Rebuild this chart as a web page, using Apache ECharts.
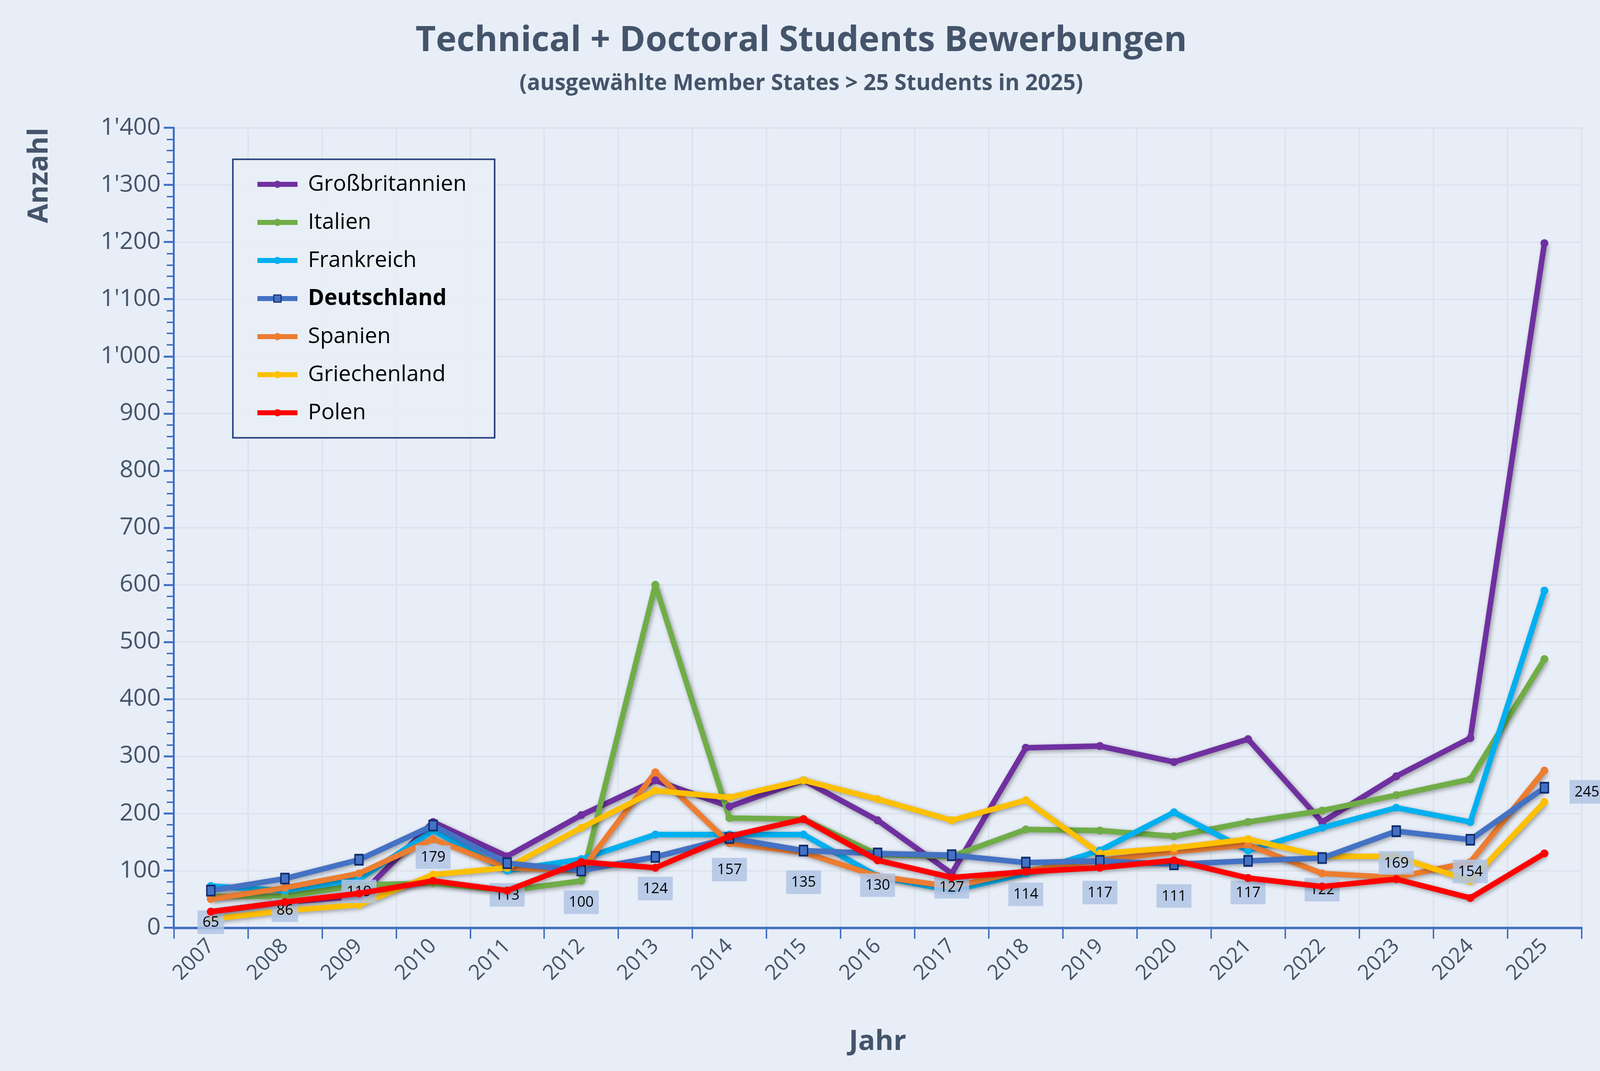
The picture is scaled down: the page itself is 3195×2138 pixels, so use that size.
<!DOCTYPE html>
<html>
<head>
<meta charset="utf-8">
<script src="https://cdn.jsdelivr.net/npm/echarts@6/dist/echarts.min.js"></script>
<style>
    html, body { margin: 0; padding: 0; background: #e8eef7; }
    #chart { width: 3195px; height: 2138px; }
</style>
</head>
<body>
<div id="chart"></div>
<script>
const years = ['2007', '2008', '2009', '2010', '2011', '2012', '2013', '2014', '2015', '2016',
    '2017', '2018', '2019', '2020', '2021', '2022', '2023', '2024', '2025'];

const grossbritannien = [28, 45, 55, 185, 125, 197, 258, 212, 258, 188, 95, 315, 318, 290, 330, 185, 265, 332, 1198];
const italien = [55, 55, 75, 78, 65, 82, 600, 192, 190, 128, 125, 172, 170, 160, 185, 205, 232, 260, 470];
const frankreich = [73, 65, 85, 170, 100, 120, 163, 163, 163, 90, 65, 95, 135, 202, 135, 175, 210, 185, 590];
const deutschland = [65, 86, 119, 179, 113, 100, 124, 157, 135, 130, 127, 114, 117, 111, 117, 122, 169, 154, 245];
const spanien = [50, 70, 95, 155, 105, 100, 272, 148, 132, 90, 72, 100, 118, 133, 145, 95, 88, 115, 275];
const griechenland = [15, 30, 40, 93, 105, 175, 240, 228, 258, 225, 188, 223, 130, 140, 155, 125, 125, 82, 220];
const polen = [28, 45, 60, 82, 65, 115, 105, 160, 190, 118, 88, 98, 105, 118, 87, 72, 85, 52, 130];

const FONT = "'Open Sans', 'Noto Sans', sans-serif";
const TXT = '#44546a';

function lineSeries(name, data, color, width, z) {
    return {
        name: name,
        type: 'line',
        data: data,
        z: z,
        symbol: 'circle',
        symbolSize: 16,
        itemStyle: { color: color },
        lineStyle: {
            color: color, width: width,
            shadowColor: 'rgba(0,0,0,0.35)', shadowBlur: 8, shadowOffsetX: 3, shadowOffsetY: 3
        }
    };
}

const series = [
    lineSeries('Großbritannien', grossbritannien, '#7030a0', 11, 3),
    lineSeries('Italien', italien, '#70ad47', 11, 3),
    lineSeries('Frankreich', frankreich, '#00b0f0', 11, 3),
    {
        name: 'Deutschland',
        type: 'line',
        data: deutschland,
        z: 4,
        symbol: 'rect',
        symbolSize: [16, 20],
        itemStyle: { color: '#4472c4', borderColor: '#0d2a6b', borderWidth: 3 },
        lineStyle: {
            color: '#4472c4', width: 11,
            shadowColor: 'rgba(0,0,0,0.35)', shadowBlur: 8, shadowOffsetX: 3, shadowOffsetY: 3
        },
        label: {
            show: true,
            position: 'bottom',
            distance: 28,
            fontFamily: FONT,
            fontSize: 29,
            color: '#000',
            backgroundColor: 'rgba(176,196,228,0.85)',
            padding: [10, 10, 8, 10]
        },
        labelLayout: function (p) {
            if (p.dataIndex === deutschland.length - 1) {
                return { dx: 85, dy: -55 };
            }
            return {};
        }
    },
    lineSeries('Spanien', spanien, '#ed7d31', 11, 3),
    lineSeries('Griechenland', griechenland, '#ffc000', 11, 3),
    lineSeries('Polen', polen, '#ff0000', 11, 5)
];

const chart = echarts.init(document.getElementById('chart'));

chart.setOption({
    backgroundColor: '#e8eef7',
    title: {
        text: 'Technical + Doctoral Students Bewerbungen',
        subtext: '(ausgewählte Member States > 25 Students in 2025)',
        left: 1595,
        textAlign: 'center',
        top: 42,
        itemGap: 28,
        textStyle: { fontFamily: FONT, fontSize: 70, fontWeight: 'bold', color: TXT },
        subtextStyle: { fontFamily: FONT, fontSize: 44, fontWeight: 'bold', color: TXT }
    },
    legend: {
        orient: 'vertical',
        left: 465,
        top: 318,
        width: 549,
        padding: [28, 56, 28, 44],
        itemGap: 32,
        itemWidth: 80,
        itemHeight: 18,
        backgroundColor: 'rgba(232,238,247,0.85)',
        borderColor: '#1f3a7a',
        borderWidth: 3,
        lineStyle: { width: 10 },
        formatter: function (name) {
            return name === 'Deutschland' ? '{b|' + name + '}' : name;
        },
        textStyle: {
            fontFamily: FONT, fontSize: 44, color: '#000', padding: [0, 0, 0, 16],
            rich: { b: { fontFamily: FONT, fontSize: 44, fontWeight: 'bold', color: '#000' } }
        }
    },
    grid: { left: 347, right: 37, top: 255, bottom: 286, containLabel: false },
    xAxis: {
        type: 'category',
        data: years,
        boundaryGap: true,
        name: 'Jahr',
        nameLocation: 'middle',
        nameGap: 200,
        nameTextStyle: { fontFamily: FONT, fontSize: 56, fontWeight: 'bold', color: TXT },
        axisLine: { lineStyle: { color: '#4472c4', width: 5 } },
        axisTick: { show: true, length: 22, lineStyle: { color: '#4472c4', width: 3 } },
        axisLabel: { rotate: 45, fontFamily: FONT, fontSize: 42, color: TXT, margin: 30 },
        splitLine: { show: true, lineStyle: { color: '#dde3ee', width: 3 } }
    },
    yAxis: {
        type: 'value',
        min: 0,
        max: 1400,
        interval: 100,
        name: 'Anzahl',
        nameLocation: 'end',
        nameRotate: 90,
        nameGap: 0,
        nameTextStyle: { fontFamily: FONT, fontSize: 56, fontWeight: 'bold', color: TXT, padding: [0, 0, 240, 0], align: 'right', verticalAlign: 'bottom' },
        axisLine: { show: true, lineStyle: { color: '#4472c4', width: 4 } },
        axisTick: { show: true, length: 20, inside: false, lineStyle: { color: '#4472c4', width: 4 } },
        minorTick: { show: true, splitNumber: 5, length: 14, lineStyle: { color: '#4472c4', width: 3 } },
        axisLabel: {
            fontFamily: FONT, fontSize: 48, color: TXT, margin: 26,
            formatter: function (v) { return v >= 1000 ? Math.floor(v / 1000) + "'" + String(v % 1000).padStart(3, '0') : String(v); }
        },
        splitLine: { show: true, lineStyle: { color: '#dde3ee', width: 3 } }
    },
    series: series
});
</script>
</body>
</html>
